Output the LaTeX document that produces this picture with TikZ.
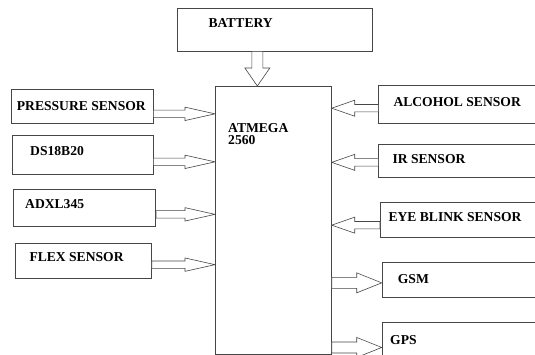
\documentclass[tikz,border=0pt]{standalone}
\usepackage{fontspec}
\setmainfont{Liberation Serif}
\usepackage{xcolor}
\definecolor{lgray}{RGB}{70,70,70}
\usepackage{tikz}
\usetikzlibrary{calc}
\newcommand{\lblfont}{\bfseries\fontsize{13.6}{12.6}\selectfont}

\begin{document}
\begin{tikzpicture}[
  x=1pt,y=-1pt,
  box/.style={rectangle,draw=lgray,line width=0.7pt,anchor=north west},
  txt/.style={anchor=west,font=\lblfont,inner sep=0pt,align=left},
  shaft/.store in=\shaftw, tipw/.store in=\tipw, tipl/.store in=\tipl,
  blockarrow/.style={draw=lgray,line width=0.6pt,fill=white,
    to path={let \p1=(\tikztostart), \p2=(\tikztotarget),
      \n1={veclen(\x2-\x1,\y2-\y1)}, \n2={atan2(\y2-\y1,\x2-\x1)} in
      {[shift={(\p1)},rotate=\n2]
        (0pt,-\shaftw) -- ({\n1-\tipl},-\shaftw) -- ({\n1-\tipl},-\tipw) -- ({\n1},0pt)
        -- ({\n1-\tipl},\tipw) -- ({\n1-\tipl},\shaftw) -- (0pt,\shaftw) -- cycle}}},
  larrow/.style={blockarrow,shaft=3.7pt,tipw=6.7pt,tipl=30pt},
  rarrow/.style={blockarrow,shaft=3.7pt,tipw=8pt,tipl=23pt},
  oarrow/.style={blockarrow,shaft=5.5pt,tipw=10pt,tipl=25pt},
  barrow/.style={blockarrow,shaft=5.5pt,tipw=12.5pt,tipl=18pt}
]
  \useasboundingbox (0,0) rectangle (535,354);

  % Controller and supply
  \node[box,minimum width=116pt,minimum height=268pt,
    label={[txt,name=atmt,anchor=north west,xshift=13pt,yshift=-37pt]north west:ATMEGA\\2560}] (atm) at (215,86) {};
  \node[box,minimum width=195pt,minimum height=42.4pt,
    label={[txt,name=batt,xshift=31.6pt,yshift=7pt]west:BATTERY}] (bat) at (176.7,8.3) {};

  % Input sensors (left)
  \node[box,minimum width=141.7pt,minimum height=33.4pt,
    label={[txt,name=presst,xshift=5.7pt]west:PRESSURE SENSOR}] (press) at (11,89.3) {};
  \node[box,minimum width=140.4pt,minimum height=39pt,
    label={[txt,name=dst,xshift=17.7pt,yshift=4.2pt]west:DS18B20}] (ds) at (12.3,135) {};
  \node[box,minimum width=142pt,minimum height=36.4pt,
    label={[txt,name=adxlt,xshift=11.7pt,yshift=4.2pt]west:ADXL345}] (adxl) at (13.3,189.3) {};
  \node[box,minimum width=136pt,minimum height=35pt,
    label={[txt,name=flext,xshift=14.3pt,yshift=3.6pt]west:FLEX SENSOR}] (flex) at (15,243.3) {};

  % Input sensors (right)
  \node[box,minimum width=170pt,minimum height=37.7pt,
    label={[txt,name=alct,xshift=15pt,yshift=2.1pt]west:ALCOHOL SENSOR}] (alc) at (378.3,85) {};
  \node[box,minimum width=170pt,minimum height=32.4pt,
    label={[txt,name=irt,xshift=14pt,yshift=2pt]west:IR SENSOR}] (ir) at (378.3,144.3) {};
  \node[box,minimum width=170pt,minimum height=35pt,
    label={[txt,name=eyet,xshift=8.3pt,yshift=2.6pt]west:EYE BLINK SENSOR}] (eye) at (380,202.3) {};

  % Outputs
  \node[box,minimum width=170pt,minimum height=35pt,
    label={[txt,name=gsmt,xshift=16pt,yshift=0.7pt]west:GSM}] (gsm) at (381.7,261.7) {};
  \node[box,minimum width=170pt,minimum height=40pt,
    label={[txt,name=gpst,xshift=8.3pt,yshift=2.7pt]west:GPS}] (gps) at (381.7,322.3) {};

  % Block arrows
  \draw[barrow] ([xshift=-17.2pt]bat.south) to ([xshift=-17.2pt]bat.south |- atm.north);
  \draw[larrow] ([yshift=-7.5pt]press.east) to ([yshift=-7.5pt]press.east -| atm.west);
  \draw[larrow] ([yshift=-7pt]ds.east) to ([yshift=-7pt]ds.east -| atm.west);
  \draw[larrow] ([yshift=-6.5pt]adxl.east) to ([yshift=-6.5pt]adxl.east -| atm.west);
  \draw[larrow] ([yshift=-3.5pt]flex.east) to ([yshift=-3.5pt]flex.east -| atm.west);
  \draw[rarrow] ([yshift=-4pt]alc.west) to ([yshift=-4pt]alc.west -| atm.east);
  \draw[rarrow] ([yshift=-1.5pt]ir.west) to ([yshift=-1.5pt]ir.west -| atm.east);
  \draw[rarrow] ([yshift=-5pt]eye.west) to ([yshift=-5pt]eye.west -| atm.east);
  \draw[oarrow] ([yshift=-3.3pt]gsm.west -| atm.east) to ([yshift=-3.3pt]gsm.west);
  \draw[oarrow] ([yshift=-4.8pt]gps.west -| atm.east) to ([yshift=-4.8pt]gps.west);
\end{tikzpicture}
\end{document}
